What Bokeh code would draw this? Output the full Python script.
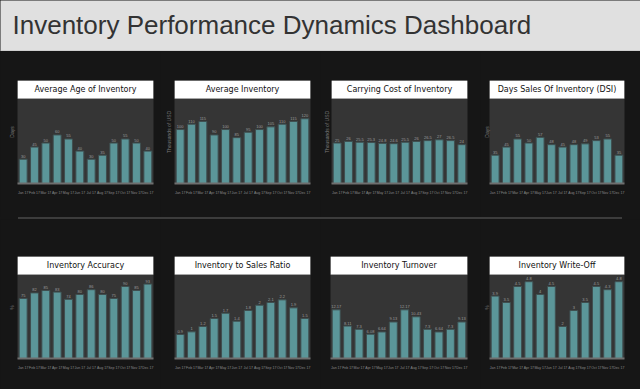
from bokeh.plotting import figure
from bokeh.models import Range1d, FixedTicker, BoxAnnotation, Label, Span, ColumnDataSource, Div
from bokeh.layouts import column, row
from bokeh.embed import file_html
from bokeh.resources import INLINE

# ---------------- data ----------------
dashboard_title = "Inventory Performance Dynamics Dashboard"
months = ["Jan 17", "Feb 17", "Mar 17", "Apr 17", "May 17", "Jun 17",
          "Jul 17", "Aug 17", "Sep 17", "Oct 17", "Nov 17", "Dec 17"]

chart_titles = ["Average Age of Inventory", "Average Inventory", "Carrying Cost of Inventory",
                "Days Sales Of Inventory (DSI)", "Inventory Accuracy", "Inventory to Sales Ratio",
                "Inventory Turnover", "Inventory Write-Off"]
y_labels = ["Days", "Thousands of USD", "Thousands of USD", "Days", "%", "", "", "%"]
y_max = [100, 150, 50, 100, 100, 3, 20, 5]

avg_age = [30, 45, 50, 60, 55, 40, 30, 35, 50, 55, 50, 40]
avg_inventory = [100, 110, 115, 90, 100, 85, 95, 100, 105, 110, 115, 120]
carrying_cost = [25, 26, 25.5, 25.3, 24.8, 24.6, 25.5, 26, 26.5, 27, 26.5, 24]
dsi = [35, 45, 55, 50, 57, 48, 45, 48, 49, 53, 55, 35]
accuracy = [75, 82, 85, 83, 74, 80, 86, 80, 75, 90, 85, 93]
inv_to_sales = [0.9, 1, 1.2, 1.5, 1.7, 1.4, 1.8, 2, 2.1, 2.2, 1.9, 1.5]
turnover = [12.17, 8.11, 7.3, 6.08, 6.64, 9.13, 12.17, 10.43, 7.3, 6.64, 7.3, 9.13]
write_off = [3.9, 3.5, 4.5, 4.8, 4, 4.5, 2, 3, 3.5, 4.5, 4.3, 4.8]

series = [avg_age, avg_inventory, carrying_cost, dsi, accuracy, inv_to_sales, turnover, write_off]

# ---------------- style ----------------
PAGE_BG = "#161616"
PLOT_BG = "#353535"
BAR = "#5b9699"
BAR_LINE = "#3f4f50"
TEXT_FONT = "Liberation Sans"

# left border, frame width, right border, label standoff for each column (160 px each)
col_geom = [(17, 136, 7, 3), (14, 136, 10, 3), (10, 137, 13, 2), (8, 136, 16, 0)]
# top border, frame height, bottom border, band height for each row
row_geom = [(29, 103, 34, 18), (37, 102, 31, 18)]


def make_chart(i):
    ci, ri = i % 4, i // 4
    lb, fw, rb, stand = col_geom[ci]
    tb, fh, bb, band = row_geom[ri]
    vals = series[i]
    n = len(vals)
    xs = list(range(n))
    padded = y_max[i] * 1.05
    y_end = padded * fh / (fh - band)

    p = figure(width=lb + fw + rb, height=tb + fh + bb, title=None,
               x_range=Range1d(-0.5, n - 0.5), y_range=Range1d(0, y_end),
               output_backend="svg", toolbar_location=None,
               min_border_left=lb, min_border_right=rb,
               min_border_top=tb, min_border_bottom=bb,
               background_fill_color=PLOT_BG, border_fill_color=PAGE_BG,
               outline_line_color=None)
    p.xgrid.visible = False
    p.ygrid.visible = False

    src = ColumnDataSource(dict(x=xs, top=vals, lab=[f"{v:g}" for v in vals]))
    p.vbar(x="x", top="top", width=0.7, source=src,
           fill_color=BAR, line_color=BAR_LINE, line_width=1)
    p.text(x="x", y="top", text="lab", source=src, text_align="center",
           text_baseline="bottom", y_offset=-1.5, text_font_size="4px",
           text_color="#9c9c9c")

    ax = p.xaxis[0]
    ax.ticker = FixedTicker(ticks=xs)
    ax.major_label_overrides = {k: m for k, m in zip(xs, months)}
    ax.major_label_text_font_size = "3.5px"
    ax.major_label_text_color = "#8a8a8a"
    ax.major_label_standoff = 1
    ax.major_tick_line_color = None
    ax.minor_tick_line_color = None
    ax.axis_line_color = "#6e6e6e"
    ax.axis_line_width = 2

    yax = p.yaxis[0]
    yax.ticker = FixedTicker(ticks=[])
    yax.bounds = (0, padded)
    yax.axis_line_color = None
    yax.major_tick_line_color = None
    yax.minor_tick_line_color = None
    yax.major_label_standoff = 0
    yax.axis_label = y_labels[i] if y_labels[i] else None
    yax.axis_label_text_font = TEXT_FONT
    yax.axis_label_text_font_size = "5px"
    yax.axis_label_text_font_style = "normal"
    yax.axis_label_text_color = "#7a7a7a"
    yax.axis_label_standoff = stand

    # white title band at the top of the frame
    p.add_layout(BoxAnnotation(bottom=padded, fill_color="white", fill_alpha=1,
                               line_color="#c8c8c8", line_width=1, level="overlay"))
    p.add_layout(Label(x=(n - 1) / 2, y=(padded + y_end) / 2, text=chart_titles[i],
                       text_align="center", text_baseline="middle",
                       text_font="DejaVu Sans", text_font_size="8px",
                       text_color="#111111", level="overlay"))
    return p


# header
HEAD_H = 51
header = figure(width=640, height=HEAD_H, title=None,
                x_range=Range1d(0, 640), y_range=Range1d(0, HEAD_H),
                output_backend="svg", toolbar_location=None,
                x_axis_location=None, y_axis_location=None,
                min_border_left=0, min_border_right=0, min_border_top=0, min_border_bottom=0,
                background_fill_color="#e0e0e0", border_fill_color="#e0e0e0",
                outline_line_color=None)
header.xgrid.visible = False
header.ygrid.visible = False
header.add_layout(Label(x=12, y=HEAD_H - 24, text=dashboard_title, text_font=TEXT_FONT,
                        text_font_size="26px", text_color="#333333",
                        text_baseline="alphabetic", text_align="left"))
header.add_layout(Span(location=0.5, dimension="width", line_color="#bdbdbd", line_width=1))

# separator line between the two rows
sep = Div(text="", width=604, height=2, margin=(0, 0, 0, 18),
          styles={"background-color": "#3c3c3c"})

charts = [make_chart(i) for i in range(8)]
bg = {"background-color": PAGE_BG}
layout = column(header,
                row(*charts[:4], spacing=0, styles=bg),
                sep,
                row(*charts[4:], spacing=0, styles=bg),
                spacing=0, styles=bg)

open("out.html", "w").write(file_html(layout, INLINE))
